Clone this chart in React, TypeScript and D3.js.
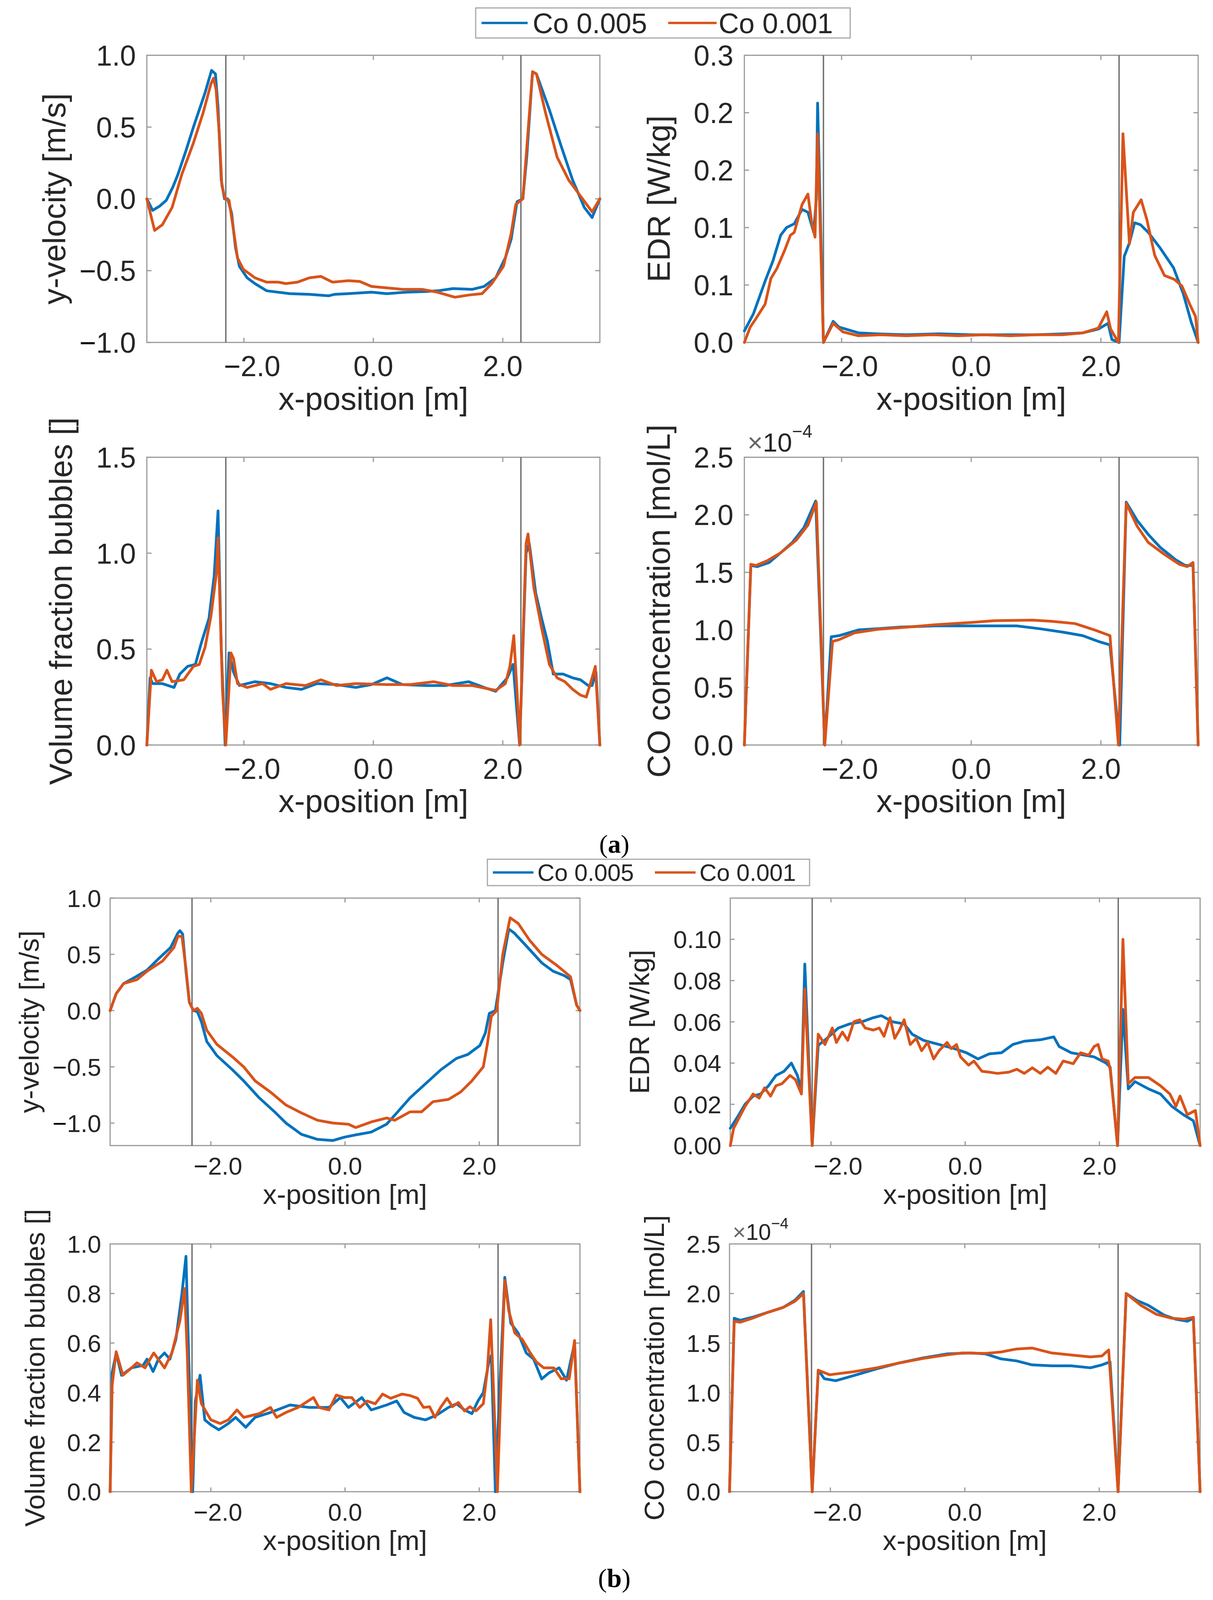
import React from "react";
import * as d3 from "d3";

type Pt = [number, number];

// legend / colours
const seriesLabels = ["Co 0.005", "Co 0.001"];
const seriesColors = ["#0072BD", "#D95319"];

// shared x axis
const xDomain: [number, number] = [-3.5, 3.5];
const xTickValues = [-2, 0, 2];
const wallPositions = [-2.28, 2.28];

// y ticks
const velTicks = [-1, -0.5, 0, 0.5, 1];
const edrTicksA = [0, 0.06, 0.12, 0.18, 0.24, 0.3];
const vfTicksA = [0, 0.5, 1, 1.5];
const coTicks = [0, 0.5, 1, 1.5, 2, 2.5];
const edrTicksB = [0, 0.02, 0.04, 0.06, 0.08, 0.1];
const vfTicksB = [0, 0.2, 0.4, 0.6, 0.8, 1];

// ---------- (a) ----------
const aVelBlue: Pt[] = [[-3.5,0],[-3.41,-0.08],[-3.3,-0.05],[-3.2,-0.01],[-3.1,0.08],[-3.02,0.17],[-2.9,0.33],[-2.78,0.5],[-2.6,0.74],[-2.5,0.895],[-2.44,0.87],[-2.4,0.64],[-2.35,0.13],[-2.3,0],[-2.25,0],[-2.19,-0.1],[-2.13,-0.34],[-2.07,-0.47],[-1.95,-0.55],[-1.83,-0.59],[-1.65,-0.64],[-1.29,-0.66],[-0.99,-0.665],[-0.69,-0.675],[-0.6,-0.665],[-0.39,-0.66],[-0.03,-0.65],[0.21,-0.66],[0.51,-0.65],[0.81,-0.645],[1.0,-0.64],[1.23,-0.625],[1.53,-0.63],[1.71,-0.61],[1.89,-0.55],[2.04,-0.41],[2.13,-0.28],[2.22,-0.02],[2.31,0],[2.37,0.29],[2.46,0.885],[2.52,0.87],[2.72,0.62],[2.9,0.37],[3.08,0.13],[3.26,-0.06],[3.38,-0.13],[3.5,0]];
const aVelOrange: Pt[] = [[-3.5,0],[-3.38,-0.22],[-3.26,-0.18],[-3.11,-0.06],[-2.96,0.17],[-2.78,0.39],[-2.63,0.6],[-2.51,0.8],[-2.47,0.84],[-2.43,0.76],[-2.38,0.45],[-2.34,0.09],[-2.29,0],[-2.23,-0.01],[-2.16,-0.22],[-2.1,-0.41],[-2.01,-0.49],[-1.83,-0.55],[-1.65,-0.58],[-1.47,-0.58],[-1.35,-0.59],[-1.17,-0.58],[-0.99,-0.55],[-0.81,-0.54],[-0.63,-0.58],[-0.39,-0.57],[-0.21,-0.575],[-0.03,-0.61],[0.21,-0.62],[0.45,-0.63],[0.75,-0.63],[0.99,-0.65],[1.26,-0.685],[1.47,-0.67],[1.68,-0.66],[1.83,-0.59],[2.01,-0.47],[2.13,-0.24],[2.2,-0.04],[2.31,0],[2.38,0.41],[2.46,0.885],[2.52,0.87],[2.66,0.6],[2.84,0.29],[3.02,0.13],[3.2,0.02],[3.38,-0.09],[3.5,0]];

const aEdrBlue: Pt[] = [[-3.5,0.012],[-3.36,0.03],[-3.18,0.064],[-3.06,0.085],[-2.94,0.112],[-2.85,0.12],[-2.73,0.124],[-2.61,0.139],[-2.52,0.136],[-2.43,0.115],[-2.39,0.15],[-2.37,0.25],[-2.28,0],[-2.13,0.022],[-2.04,0.016],[-1.74,0.01],[-1.44,0.009],[-1.0,0.008],[-0.5,0.009],[0,0.008],[0.5,0.008],[1.0,0.008],[1.4,0.009],[1.72,0.01],[1.96,0.014],[2.11,0.02],[2.17,0.003],[2.28,0],[2.36,0.09],[2.44,0.104],[2.52,0.125],[2.61,0.123],[2.73,0.115],[2.91,0.099],[3.12,0.078],[3.27,0.051],[3.39,0.022],[3.5,0]];
const aEdrOrange: Pt[] = [[-3.5,0],[-3.41,0.016],[-3.33,0.024],[-3.18,0.04],[-3.09,0.067],[-3.0,0.077],[-2.88,0.096],[-2.79,0.112],[-2.73,0.115],[-2.61,0.144],[-2.52,0.155],[-2.46,0.125],[-2.41,0.11],[-2.37,0.218],[-2.28,0],[-2.13,0.02],[-1.98,0.011],[-1.74,0.007],[-1.4,0.008],[-1.0,0.007],[-0.6,0.008],[-0.2,0.007],[0.2,0.008],[0.6,0.007],[1.0,0.008],[1.4,0.008],[1.72,0.01],[1.96,0.015],[2.09,0.032],[2.15,0.014],[2.27,0],[2.34,0.218],[2.44,0.103],[2.5,0.136],[2.62,0.149],[2.71,0.128],[2.83,0.091],[2.98,0.07],[3.13,0.066],[3.25,0.059],[3.37,0.04],[3.46,0.027],[3.5,0]];

const aVfBlue: Pt[] = [[-3.5,0],[-3.45,0.35],[-3.41,0.32],[-3.26,0.32],[-3.08,0.3],[-2.99,0.37],[-2.87,0.41],[-2.75,0.42],[-2.66,0.53],[-2.54,0.66],[-2.46,0.88],[-2.4,1.22],[-2.35,0.5],[-2.29,0],[-2.23,0.48],[-2.16,0.38],[-2.07,0.31],[-1.83,0.33],[-1.59,0.32],[-1.35,0.3],[-1.11,0.29],[-0.87,0.32],[-0.57,0.315],[-0.27,0.3],[-0.03,0.315],[0.21,0.35],[0.45,0.315],[0.81,0.31],[1.11,0.31],[1.47,0.33],[1.71,0.3],[1.89,0.28],[2.07,0.35],[2.16,0.42],[2.26,0],[2.36,1.0],[2.41,1.05],[2.51,0.79],[2.6,0.66],[2.69,0.54],[2.78,0.37],[2.93,0.37],[3.08,0.35],[3.2,0.34],[3.32,0.31],[3.38,0.31],[3.44,0.38],[3.5,0]];
const aVfOrange: Pt[] = [[-3.5,0],[-3.43,0.39],[-3.35,0.33],[-3.26,0.34],[-3.19,0.39],[-3.11,0.33],[-2.93,0.34],[-2.78,0.41],[-2.69,0.42],[-2.6,0.51],[-2.51,0.67],[-2.42,0.91],[-2.4,1.08],[-2.33,0.28],[-2.28,0],[-2.2,0.48],[-2.16,0.45],[-2.1,0.32],[-1.95,0.3],[-1.71,0.32],[-1.59,0.29],[-1.35,0.32],[-1.05,0.31],[-0.81,0.34],[-0.57,0.31],[-0.27,0.32],[0.21,0.315],[0.57,0.315],[0.93,0.33],[1.23,0.31],[1.53,0.31],[1.89,0.285],[2.04,0.32],[2.11,0.41],[2.17,0.57],[2.22,0.28],[2.26,0],[2.36,1.05],[2.39,1.1],[2.48,0.82],[2.6,0.61],[2.72,0.42],[2.84,0.35],[2.96,0.33],[3.08,0.29],[3.2,0.26],[3.29,0.25],[3.38,0.35],[3.43,0.41],[3.5,0]];

const aCoBlue: Pt[] = [[-3.5,0],[-3.4,1.56],[-3.3,1.55],[-3.12,1.585],[-2.94,1.67],[-2.76,1.76],[-2.58,1.89],[-2.4,2.12],[-2.26,0],[-2.16,0.94],[-2.04,0.95],[-1.74,1.0],[-1.44,1.01],[-1.09,1.025],[-0.55,1.035],[0,1.035],[0.35,1.035],[0.7,1.035],[1.06,1.01],[1.42,0.98],[1.72,0.95],[1.96,0.9],[2.14,0.87],[2.29,0],[2.39,2.11],[2.56,1.95],[2.73,1.83],[2.91,1.72],[3.15,1.61],[3.3,1.56],[3.39,1.56],[3.42,1.585],[3.5,0]];
const aCoOrange: Pt[] = [[-3.5,0],[-3.4,1.57],[-3.32,1.56],[-3.15,1.6],[-2.94,1.67],[-2.7,1.78],[-2.52,1.91],[-2.39,2.11],[-2.26,0],[-2.14,0.9],[-2.04,0.915],[-1.8,0.975],[-1.44,1.005],[-0.97,1.025],[-0.55,1.045],[0,1.065],[0.35,1.08],[0.94,1.085],[1.24,1.075],[1.6,1.055],[1.9,1.0],[2.14,0.95],[2.27,0],[2.39,2.1],[2.56,1.9],[2.73,1.76],[2.97,1.66],[3.21,1.57],[3.33,1.55],[3.42,1.585],[3.5,0]];

// ---------- (b) ----------
const bVelBlue: Pt[] = [[-3.5,0],[-3.41,0.15],[-3.3,0.24],[-3.12,0.3],[-2.95,0.36],[-2.78,0.46],[-2.6,0.56],[-2.49,0.69],[-2.46,0.71],[-2.42,0.68],[-2.37,0.35],[-2.32,0.075],[-2.26,0],[-2.2,-0.01],[-2.14,-0.1],[-2.06,-0.275],[-1.91,-0.4],[-1.68,-0.525],[-1.51,-0.625],[-1.28,-0.775],[-1.05,-0.9],[-0.88,-1.0],[-0.65,-1.1],[-0.41,-1.145],[-0.18,-1.155],[-0.01,-1.125],[0.16,-1.105],[0.39,-1.08],[0.62,-1.01],[0.8,-0.89],[0.97,-0.775],[1.2,-0.65],[1.43,-0.525],[1.66,-0.425],[1.83,-0.39],[2.01,-0.31],[2.09,-0.2],[2.15,-0.025],[2.24,0],[2.35,0.425],[2.44,0.725],[2.52,0.69],[2.7,0.575],[2.93,0.425],[3.1,0.35],[3.27,0.31],[3.36,0.275],[3.45,0.05],[3.5,0]];
const bVelOrange: Pt[] = [[-3.5,0],[-3.41,0.15],[-3.3,0.24],[-3.1,0.275],[-2.95,0.35],[-2.72,0.44],[-2.55,0.56],[-2.49,0.66],[-2.43,0.66],[-2.37,0.375],[-2.32,0.075],[-2.26,0],[-2.2,0.02],[-2.14,-0.025],[-2.06,-0.175],[-1.91,-0.3],[-1.68,-0.41],[-1.51,-0.5],[-1.34,-0.625],[-1.11,-0.725],[-0.88,-0.84],[-0.65,-0.91],[-0.41,-0.975],[-0.18,-1.0],[0.05,-1.01],[0.16,-1.04],[0.39,-0.99],[0.62,-0.955],[0.74,-0.975],[0.97,-0.9],[1.14,-0.9],[1.31,-0.81],[1.54,-0.79],[1.72,-0.725],[1.89,-0.625],[2.06,-0.5],[2.12,-0.3],[2.18,-0.05],[2.26,0],[2.35,0.5],[2.46,0.825],[2.58,0.775],[2.75,0.625],[2.93,0.5],[3.16,0.4],[3.36,0.3],[3.45,0.05],[3.5,0]];

const bEdrBlue: Pt[] = [[-3.5,0.0084],[-3.39,0.014],[-3.28,0.02],[-3.16,0.024],[-3.05,0.025],[-2.93,0.029],[-2.82,0.034],[-2.7,0.036],[-2.59,0.04],[-2.5,0.034],[-2.44,0.027],[-2.39,0.088],[-2.28,0],[-2.19,0.0486],[-2.06,0.052],[-1.89,0.057],[-1.72,0.059],[-1.54,0.06],[-1.37,0.062],[-1.25,0.063],[-1.08,0.06],[-0.91,0.059],[-0.79,0.054],[-0.62,0.051],[-0.39,0.049],[-0.16,0.047],[0.02,0.045],[0.19,0.042],[0.36,0.0445],[0.54,0.045],[0.71,0.049],[0.88,0.0506],[1.12,0.0513],[1.32,0.0527],[1.4,0.048],[1.58,0.045],[1.75,0.044],[1.92,0.043],[2.1,0.04],[2.16,0.038],[2.27,0],[2.35,0.066],[2.43,0.0275],[2.53,0.031],[2.73,0.0275],[2.91,0.025],[3.08,0.019],[3.25,0.015],[3.4,0.012],[3.5,0]];
const bEdrOrange: Pt[] = [[-3.5,0],[-3.45,0.0084],[-3.36,0.014],[-3.28,0.019],[-3.16,0.025],[-3.07,0.023],[-2.99,0.028],[-2.9,0.024],[-2.82,0.029],[-2.73,0.03],[-2.61,0.034],[-2.53,0.032],[-2.44,0.025],[-2.39,0.076],[-2.28,0],[-2.19,0.054],[-2.09,0.049],[-1.98,0.057],[-1.92,0.05],[-1.83,0.055],[-1.75,0.051],[-1.66,0.06],[-1.57,0.061],[-1.49,0.057],[-1.37,0.056],[-1.28,0.057],[-1.21,0.053],[-1.12,0.062],[-1.05,0.052],[-0.98,0.056],[-0.91,0.061],[-0.82,0.049],[-0.73,0.052],[-0.65,0.046],[-0.56,0.05],[-0.47,0.042],[-0.39,0.046],[-0.27,0.05],[-0.21,0.047],[-0.13,0.049],[-0.07,0.043],[0.05,0.039],[0.13,0.041],[0.25,0.036],[0.36,0.0356],[0.48,0.035],[0.65,0.0356],[0.77,0.037],[0.88,0.035],[1.0,0.0377],[1.12,0.035],[1.23,0.038],[1.35,0.035],[1.46,0.041],[1.61,0.0397],[1.72,0.045],[1.84,0.0438],[1.92,0.048],[1.98,0.049],[2.04,0.042],[2.13,0.041],[2.16,0.037],[2.27,0],[2.35,0.1],[2.43,0.03],[2.53,0.033],[2.73,0.033],[2.91,0.029],[3.05,0.025],[3.14,0.019],[3.2,0.024],[3.31,0.015],[3.43,0.017],[3.5,0]];

const bVfBlue: Pt[] = [[-3.5,0],[-3.47,0.48],[-3.41,0.56],[-3.33,0.47],[-3.18,0.5],[-3.01,0.51],[-2.95,0.535],[-2.86,0.485],[-2.78,0.535],[-2.69,0.56],[-2.61,0.535],[-2.52,0.615],[-2.43,0.8],[-2.37,0.95],[-2.33,0.55],[-2.27,0],[-2.23,0.366],[-2.16,0.47],[-2.09,0.29],[-2.0,0.27],[-1.88,0.25],[-1.74,0.275],[-1.63,0.3],[-1.48,0.26],[-1.34,0.3],[-1.11,0.32],[-0.82,0.35],[-0.53,0.34],[-0.24,0.34],[-0.07,0.38],[0.05,0.34],[0.25,0.38],[0.39,0.33],[0.62,0.35],[0.77,0.366],[0.88,0.32],[1.03,0.3],[1.2,0.29],[1.37,0.31],[1.54,0.34],[1.66,0.355],[1.78,0.33],[1.89,0.315],[1.98,0.366],[2.06,0.4],[2.14,0.52],[2.18,0.55],[2.24,0],[2.29,0.32],[2.38,0.865],[2.47,0.68],[2.58,0.64],[2.7,0.56],[2.81,0.535],[2.93,0.455],[3.04,0.48],[3.19,0.5],[3.3,0.45],[3.42,0.6],[3.5,0]];
const bVfOrange: Pt[] = [[-3.5,0],[-3.47,0.43],[-3.41,0.565],[-3.31,0.47],[-3.18,0.5],[-3.1,0.52],[-2.98,0.5],[-2.85,0.56],[-2.69,0.5],[-2.58,0.56],[-2.46,0.69],[-2.39,0.82],[-2.35,0.55],[-2.29,0],[-2.2,0.45],[-2.14,0.355],[-2.0,0.29],[-1.86,0.275],[-1.74,0.29],[-1.61,0.33],[-1.51,0.3],[-1.28,0.315],[-1.11,0.34],[-1.02,0.3],[-0.88,0.32],[-0.7,0.34],[-0.47,0.38],[-0.39,0.34],[-0.24,0.33],[-0.13,0.39],[-0.01,0.38],[0.1,0.38],[0.22,0.34],[0.33,0.366],[0.45,0.355],[0.56,0.394],[0.68,0.377],[0.85,0.394],[0.97,0.388],[1.08,0.377],[1.17,0.34],[1.26,0.343],[1.34,0.3],[1.43,0.343],[1.52,0.377],[1.6,0.343],[1.69,0.36],[1.78,0.326],[1.86,0.343],[1.95,0.326],[2.06,0.355],[2.12,0.49],[2.17,0.694],[2.21,0.43],[2.27,0],[2.33,0.48],[2.38,0.853],[2.44,0.73],[2.53,0.64],[2.64,0.615],[2.76,0.56],[2.85,0.524],[2.96,0.5],[3.11,0.5],[3.22,0.456],[3.34,0.456],[3.42,0.61],[3.5,0]];

const bCoBlue: Pt[] = [[-3.5,0],[-3.43,1.75],[-3.34,1.73],[-3.16,1.76],[-2.93,1.81],[-2.7,1.86],[-2.53,1.93],[-2.4,2.02],[-2.27,0],[-2.18,1.226],[-2.09,1.14],[-1.92,1.12],[-1.66,1.17],[-1.31,1.24],[-0.97,1.3],[-0.62,1.35],[-0.27,1.39],[0.08,1.4],[0.31,1.39],[0.54,1.34],[0.77,1.32],[1.0,1.28],[1.29,1.27],[1.58,1.27],[1.87,1.25],[2.04,1.28],[2.16,1.31],[2.28,0],[2.4,2.0],[2.56,1.93],[2.73,1.88],[2.97,1.78],[3.14,1.74],[3.31,1.72],[3.4,1.75],[3.5,0]];
const bCoOrange: Pt[] = [[-3.5,0],[-3.43,1.72],[-3.34,1.71],[-3.16,1.75],[-2.93,1.81],[-2.7,1.86],[-2.53,1.92],[-2.4,2.0],[-2.27,0],[-2.18,1.226],[-2.01,1.18],[-1.66,1.21],[-1.31,1.25],[-0.97,1.3],[-0.62,1.345],[-0.27,1.38],[-0.04,1.4],[0.31,1.395],[0.54,1.41],[0.77,1.44],[1.0,1.45],[1.29,1.4],[1.58,1.38],[1.87,1.36],[2.04,1.37],[2.14,1.43],[2.28,0],[2.4,2.0],[2.62,1.88],[2.85,1.79],[3.08,1.75],[3.26,1.74],[3.4,1.76],[3.5,0]];

// ---------- layout (reference pixel space, 3106 x 5644) ----------
const PAGE_W = 3106;
const REF_H = 5644;
const TEXT = "#262626";
const FRAME = "#9a9a9a";
const WALL = "#6e6e6e";
const FONT = "'Liberation Sans', Arial, Helvetica, sans-serif";
const SERIF = "'Liberation Serif', 'Times New Roman', serif";

const rowStyle = {
  a: { tickFs: 86, labelFs: 96, tickGap: 28, xTickDy: 119, xLabelDy: 237, tickLen: 12, expShift: 42, expDy: 20 },
  b: { tickFs: 74, labelFs: 83, tickGap: 23, xTickDy: 102, xLabelDy: 206, tickLen: 11, expShift: 34, expDy: 14 },
};

type PanelDef = {
  row: "a" | "b";
  left: number; top: number; width: number; height: number;
  yDomain: [number, number]; yTicks: number[]; fmt: string;
  ylabel: string; ylabelX: number;
  series: Pt[][];
  exponent?: boolean;
};

const panels: PanelDef[] = [
  { row: "a", left: 376, top: 195, width: 1160, height: 1013, yDomain: [-1, 1], yTicks: velTicks, fmt: ".1f", ylabel: "y-velocity [m/s]", ylabelX: 146, series: [aVelBlue, aVelOrange] },
  { row: "a", left: 1906, top: 195, width: 1162, height: 1013, yDomain: [0, 0.3], yTicks: edrTicksA, fmt: ".1f", ylabel: "EDR [W/kg]", ylabelX: 1694, series: [aEdrBlue, aEdrOrange] },
  { row: "a", left: 376, top: 1613, width: 1160, height: 1015, yDomain: [0, 1.5], yTicks: vfTicksA, fmt: ".1f", ylabel: "Volume fraction bubbles []", ylabelX: 163, series: [aVfBlue, aVfOrange] },
  { row: "a", left: 1906, top: 1613, width: 1162, height: 1015, yDomain: [0, 2.5], yTicks: coTicks, fmt: ".1f", ylabel: "CO concentration [mol/L]", ylabelX: 1694, series: [aCoBlue, aCoOrange], exponent: true },
  { row: "b", left: 282, top: 3168, width: 1203, height: 873, yDomain: [-1.2, 1], yTicks: velTicks, fmt: ".1f", ylabel: "y-velocity [m/s]", ylabelX: 81, series: [bVelBlue, bVelOrange] },
  { row: "b", left: 1870, top: 3168, width: 1203, height: 873, yDomain: [0, 0.12], yTicks: edrTicksB, fmt: ".2f", ylabel: "EDR [W/kg]", ylabelX: 1644, series: [bEdrBlue, bEdrOrange] },
  { row: "b", left: 282, top: 4388, width: 1203, height: 874, yDomain: [0, 1], yTicks: vfTicksB, fmt: ".1f", ylabel: "Volume fraction bubbles []", ylabelX: 96, series: [bVfBlue, bVfOrange] },
  { row: "b", left: 1868, top: 4388, width: 1205, height: 874, yDomain: [0, 2.5], yTicks: coTicks, fmt: ".1f", ylabel: "CO concentration [mol/L]", ylabelX: 1682, series: [bCoBlue, bCoOrange], exponent: true },
];

const legends = [
  { x: 1218, y: 28, w: 959, h: 106, fs: 77, items: [[1233, 1351, 1364], [1711, 1835, 1840]] },
  { x: 1248, y: 3031, w: 825, h: 93, fs: 65, items: [[1262, 1366, 1376], [1677, 1781, 1791]] },
];

const panelTags = [
  { letter: "a", y: 3008, fs: 78 },
  { letter: "b", y: 5598, fs: 80 },
];

if (typeof document !== "undefined") {
  document.body.style.margin = "0";
}

// the page is only as tall as the window allows; squeeze the figure vertically to fit it
const viewH = typeof window !== "undefined" && window.innerHeight ? Math.min(REF_H, window.innerHeight) : REF_H;
const SY = viewH / REF_H;
const FS = Math.sqrt(SY);
const LEGEND_FS = Math.min(1, FS * 1.1);

const splitSign = (s: string) => {
  const neg = s.startsWith("\u2212") || s.startsWith("-");
  return { neg, body: neg ? s.slice(1) : s };
};

function Panel({ p }: { p: PanelDef }) {
  const st = rowStyle[p.row];
  const top = p.top * SY;
  const height = p.height * SY;
  const bottom = top + height;
  const right = p.left + p.width;
  const tickFs = st.tickFs * FS;
  const labelFs = st.labelFs * FS;

  const x = d3.scaleLinear().domain(xDomain).range([p.left, right]);
  const y = d3.scaleLinear().domain(p.yDomain).range([bottom, top]);
  const line = d3.line<Pt>().x((d) => x(d[0])).y((d) => y(d[1]));
  const fmt = d3.format(p.fmt);

  return (
    <g fontFamily={FONT}>
      <rect x={p.left} y={top} width={p.width} height={height} fill="#fff" stroke={FRAME} strokeWidth={3} />
      {xTickValues.map((v) => (
        <g key={"xt" + v} stroke={FRAME} strokeWidth={3}>
          <line x1={x(v)} x2={x(v)} y1={bottom} y2={bottom - st.tickLen} />
          <line x1={x(v)} x2={x(v)} y1={top} y2={top + st.tickLen} />
        </g>
      ))}
      {p.yTicks.map((v) => (
        <g key={"yt" + v} stroke={FRAME} strokeWidth={3}>
          <line x1={p.left} x2={p.left + st.tickLen} y1={y(v)} y2={y(v)} />
          <line x1={right} x2={right - st.tickLen} y1={y(v)} y2={y(v)} />
        </g>
      ))}
      {wallPositions.map((v) => (
        <line key={"w" + v} x1={x(v)} x2={x(v)} y1={top} y2={bottom} stroke={WALL} strokeWidth={3.5} />
      ))}
      {p.series.map((s, i) => (
        <path key={"s" + i} d={line(s) || ""} fill="none" stroke={seriesColors[i]} strokeWidth={7} strokeLinejoin="round" strokeLinecap="round" />
      ))}
      {p.yTicks.map((v) => {
        const { neg, body } = splitSign(fmt(v));
        return (
          <text key={"yl" + v} x={p.left - st.tickGap} y={y(v)} dy="0.36em" textAnchor="end" fontSize={tickFs} fill={TEXT}>
            {neg && <tspan fill="#000">{"\u2212"}</tspan>}
            {body}
          </text>
        );
      })}
      {xTickValues.map((v) => {
        const { neg, body } = splitSign(d3.format(".1f")(v));
        return (
          <text key={"xl" + v} x={x(v) + (neg ? 0.29 * tickFs : 0)} y={bottom + st.xTickDy * SY} textAnchor="middle" fontSize={tickFs} fill={TEXT}>
            {neg && <tspan fill="#000">{"\u2212"}</tspan>}
            {body}
          </text>
        );
      })}
      <text x={(p.left + right) / 2} y={bottom + st.xLabelDy * SY} textAnchor="middle" fontSize={labelFs} fill={TEXT}>
        x-position [m]
      </text>
      <text
        transform={`translate(${p.ylabelX},${top + height / 2}) rotate(-90)`}
        dy="0.26em"
        textAnchor="middle"
        fontSize={labelFs}
        fill={TEXT}
      >
        {p.ylabel}
      </text>
      {p.exponent && (
        <text x={p.left + 8} y={top - st.expDy * SY} fontSize={tickFs * 0.92} fill={TEXT}>
          <tspan fill="#666">{"\u00d7"}</tspan>
          10
          <tspan dy={-st.expShift * FS} fontSize={tickFs * 0.62}>{"\u22124"}</tspan>
        </text>
      )}
    </g>
  );
}

export default function App() {
  return (
    <svg width={PAGE_W} height={viewH} viewBox={`0 0 ${PAGE_W} ${viewH}`} style={{ display: "block", background: "#fff" }}>
      <rect x={0} y={0} width={PAGE_W} height={viewH} fill="#fff" />
      {legends.map((lg, k) => {
        const ly = lg.y * SY;
        const lh = lg.h * SY;
        return (
          <g key={"lg" + k} fontFamily={FONT}>
            <rect x={lg.x} y={ly} width={lg.w} height={lh} fill="#fff" stroke="#a8a8a8" strokeWidth={3} />
            {lg.items.map((it, i) => (
              <g key={i}>
                <line x1={it[0]} x2={it[1]} y1={ly + lh / 2} y2={ly + lh / 2} stroke={seriesColors[i]} strokeWidth={6} />
                <text x={it[2]} y={ly + lh / 2} dy="0.36em" fontSize={lg.fs * LEGEND_FS} fill={TEXT}>
                  {seriesLabels[i]}
                </text>
              </g>
            ))}
          </g>
        );
      })}
      {panels.map((p, i) => (
        <Panel key={i} p={p} />
      ))}
      {panelTags.map((t) => (
        <text key={t.letter} x={1573} y={t.y * SY} textAnchor="middle" fontSize={t.fs * FS} fontFamily={SERIF} fill="#000">
          (<tspan fontWeight="bold">{t.letter}</tspan>)
        </text>
      ))}
    </svg>
  );
}
